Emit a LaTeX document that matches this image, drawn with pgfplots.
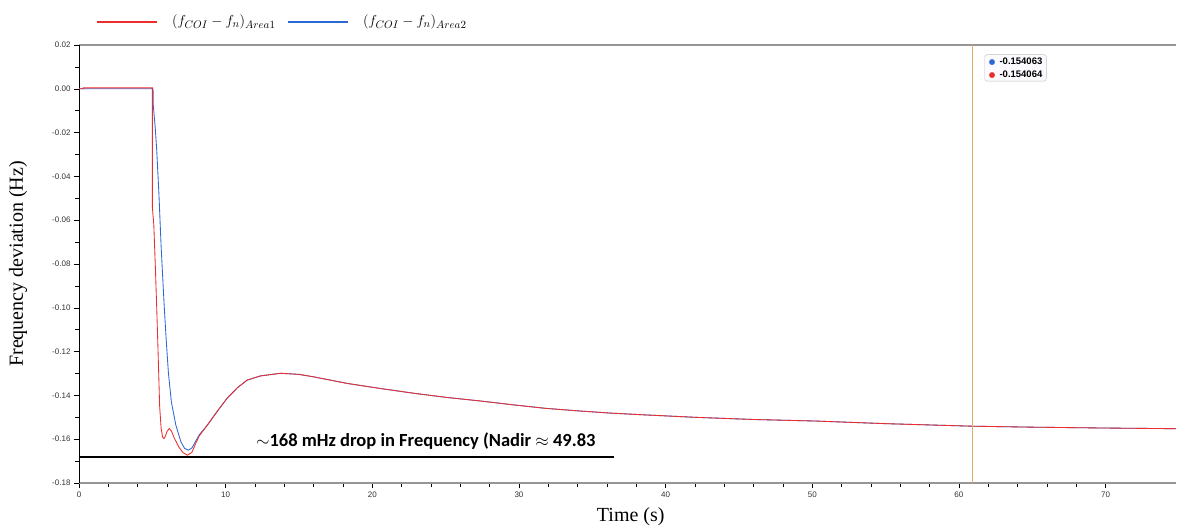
\documentclass[border=0pt]{standalone}
\usepackage{fontspec}
\usepackage{pgfplots}
\pgfplotsset{compat=1.18}
\setmainfont{Liberation Sans}
\newfontfamily\serif{Liberation Serif}
\newfontfamily\carlito{Carlito}
\newfontfamily\dejavu{DejaVu Sans}

\definecolor{areaA}{RGB}{236,45,45}
\definecolor{areaB}{RGB}{45,105,210}
\definecolor{cursor}{RGB}{232,168,110}
\definecolor{spine}{RGB}{150,150,150}

\begin{document}
\begin{tikzpicture}
\begin{axis}[
    name=ax,
    scale only axis,
    width=1097pt, height=438pt,
    xmin=0, xmax=74.8,
    ymin=-0.18, ymax=0.02,
    separate axis lines,
    axis x line=box,
    axis y line=left,
    x axis line style={spine, line width=1.2pt, -},
    y axis line style={black, line width=0.8pt, -},
    xtick={0,10,...,70},
    minor x tick num=4,
    ytick={-0.18,-0.16,...,0.02},
    minor y tick num=1,
    xtick pos=lower,
    tick align=outside,
    major tick length=5pt,
    minor tick length=4pt,
    tick style={black, line width=0.6pt},
    /pgf/number format/assume math mode=true,
    ticklabel style={font=\fontsize{8}{9}\selectfont, text=black!80},
    yticklabel style={/pgf/number format/fixed, /pgf/number format/fixed zerofill, /pgf/number format/precision=2},
    scaled y ticks=false,
    xlabel={Time (s)},
    ylabel={Frequency deviation (Hz)},
    xlabel style={font=\serif\fontsize{20}{24}\selectfont, at={(axis description cs:0.503,-0.078)}, anchor=center},
    ylabel style={font=\serif\fontsize{20}{24}\selectfont, at={(axis description cs:-0.0556,0.5)}, anchor=center, rotate=0},
    clip mode=individual,
]
% Area 2
\addplot[areaB, line width=0.85pt] coordinates {
(0,0) (5.05,0) (5.06,-0.0071) (5.2,-0.018) (5.3,-0.028) (5.45,-0.048) (5.6,-0.072)
(5.8,-0.098) (5.95,-0.115) (6.1,-0.130) (6.3,-0.143) (6.6,-0.1535) (6.95,-0.1612)
(7.2,-0.1642) (7.45,-0.1650) (7.7,-0.1640) (7.95,-0.1610) (8.2,-0.1580)
(8.76,-0.1535) (9.4,-0.1475) (10.1,-0.1413) (10.8,-0.1365) (11.47,-0.1330) (12.38,-0.1311)
(13.74,-0.1299) (15.0,-0.1304) (15.98,-0.1315) (18.26,-0.1345) (20.5,-0.1368) (22.8,-0.1390)
(25.04,-0.1409) (27.3,-0.1425) (29.6,-0.1443) (31.8,-0.1459) (34.1,-0.1471) (36.3,-0.1481)
(38.6,-0.1489) (42.0,-0.1500) (46,-0.1510) (50.2,-0.1517) (55,-0.1529) (60.9,-0.15406)
(65,-0.1545) (70,-0.1549) (74.8,-0.1552)
};
% Area 1
\addplot[areaA, line width=0.85pt] coordinates {
(0,0) (0.3,0) (0.3,0.0004) (5.0,0.0004) (5.0,-0.054) (5.1,-0.062) (5.2,-0.08) (5.3,-0.10)
(5.4,-0.122) (5.5,-0.145) (5.6,-0.155) (5.7,-0.1590) (5.8,-0.1597) (5.9,-0.1585)
(6.0,-0.1565) (6.15,-0.1551) (6.3,-0.1562) (6.5,-0.1595) (6.8,-0.1635) (7.1,-0.1662)
(7.4,-0.1673) (7.7,-0.1660) (7.95,-0.1620) (8.2,-0.1585)
(8.76,-0.1535) (9.4,-0.1475) (10.1,-0.1413) (10.8,-0.1365) (11.47,-0.1330) (12.38,-0.1311)
(13.74,-0.1299) (15.0,-0.1304) (15.98,-0.1315) (18.26,-0.1345) (20.5,-0.1368) (22.8,-0.1390)
(25.04,-0.1409) (27.3,-0.1425) (29.6,-0.1443) (31.8,-0.1459) (34.1,-0.1471) (36.3,-0.1481)
(38.6,-0.1489) (42.0,-0.1500) (46,-0.1510) (50.2,-0.1517) (55,-0.1529) (60.9,-0.15406)
(65,-0.1545) (70,-0.1549) (74.8,-0.1552)
};

% legend
\draw[areaA, line width=1.2pt] (axis description cs:0.0164,1.0525) -- (axis description cs:0.0711,1.0525);
\node[anchor=west, inner sep=0pt, font=\fontsize{15.5}{18}\selectfont]
  at (axis description cs:0.0848,1.0525) {$(f_{COI}-f_n)_{Area1}$};
\draw[areaB, line width=1.2pt] (axis description cs:0.1905,1.0525) -- (axis description cs:0.2452,1.0525);
\node[anchor=west, inner sep=0pt, font=\fontsize{15.5}{18}\selectfont]
  at (axis description cs:0.2589,1.0525) {$(f_{COI}-f_n)_{Area2}$};

% data cursor
\draw[cursor, line width=0.8pt] (axis cs:60.9,-0.18) -- (axis cs:60.9,0.02);
\node[draw=black!25, rounded corners=2.5pt, fill=blue!2, anchor=north west, align=left,
      inner xsep=4pt, inner ysep=3pt, font=\bfseries\fontsize{9.5}{13}\selectfont]
  at (axis cs:61.75,0.0157)
  {{\dejavu\color{areaB}\fontsize{7.5}{13}\selectfont ●}\, -0.154063\\
   {\dejavu\color{areaA}\fontsize{7.5}{13}\selectfont ●}\, -0.154064};

% nadir marker
\draw[black, line width=2pt] (axis cs:0,-0.168) -- (axis cs:36.5,-0.168);
\node[anchor=base, font=\carlito\bfseries\fontsize{18.5}{22}\selectfont]
  at (axis cs:23.65,-0.1632) {$\sim$168 mHz drop in Frequency (Nadir $\approx$ 49.83};
\end{axis}
\path (ax.south west) ++(-79pt,-46pt) rectangle ++(1186pt,529pt);
\end{tikzpicture}
\end{document}
